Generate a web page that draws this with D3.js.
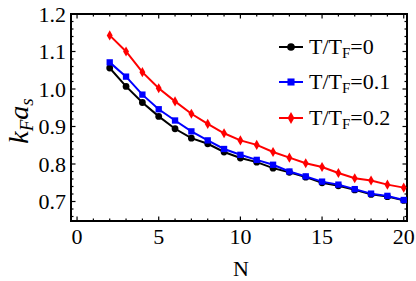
<!DOCTYPE html>
<html lang="en">
<head>
<meta charset="utf-8">
<title>kF as vs N</title>
<script src="https://cdn.jsdelivr.net/npm/d3@7"></script>
</head>
<body style="margin:0;background:white">
<svg width="416" height="281"></svg>
<script>
// data
var nValues = [2, 3, 4, 5, 6, 7, 8, 9, 10, 11, 12, 13, 14, 15, 16, 17, 18, 19, 20];
var t0 = [1.056, 1.007, 0.964, 0.927, 0.894, 0.869, 0.854, 0.832, 0.816, 0.805, 0.789, 0.778, 0.765, 0.750, 0.742, 0.731, 0.719, 0.713, 0.703];
var t01 = [1.071, 1.033, 0.985, 0.946, 0.916, 0.887, 0.863, 0.840, 0.8245, 0.811, 0.798, 0.780, 0.767, 0.753, 0.745, 0.733, 0.721, 0.715, 0.704];
var t02 = [1.143, 1.100, 1.045, 1.002, 0.967, 0.934, 0.907, 0.882, 0.863, 0.851, 0.832, 0.817, 0.802, 0.792, 0.776, 0.762, 0.756, 0.745, 0.737];
var seriesNames = ["0", "0.1", "0.2"];
var xTicks = [0, 5, 10, 15, 20];
var yTicks = [0.7, 0.8, 0.9, 1.0, 1.1, 1.2];

var serif = "Liberation Serif, Tinos, Times, DejaVu Serif, serif";
var svg = d3.select("svg");
var pLeft = 71, pRight = 407, pTop = 14, pBottom = 221;

var x = d3.scaleLinear().domain([-0.37, 20.2]).range([pLeft, pRight]);
var y = d3.scaleLinear().domain([0.648, 1.2]).range([pBottom, pTop]);

var series = [
  { name: seriesNames[0], values: t0, color: "#000000", symbol: d3.symbolCircle, size: 36 },
  { name: seriesNames[1], values: t01, color: "#0000ff", symbol: d3.symbolSquare, size: 40 },
  { name: seriesNames[2], values: t02, color: "#ff0000", symbol: d3.symbolDiamond, size: 30 }
];

// ticks (inside, mirrored on all four sides)
var ticks = svg.append("g").attr("stroke", "black").attr("stroke-width", 1.2);
d3.range(0, 21, 1).forEach(function(v) {
  var len = v % 5 === 0 ? 4.5 : 2.5;
  ticks.append("line").attr("x1", x(v)).attr("x2", x(v)).attr("y1", pBottom).attr("y2", pBottom - len);
  ticks.append("line").attr("x1", x(v)).attr("x2", x(v)).attr("y1", pTop).attr("y2", pTop + len);
});
d3.range(0.66, 1.2001, 0.02).forEach(function(v) {
  var major = Math.abs(Math.round(v * 10) - v * 10) < 1e-6;
  var len = major ? 4.5 : 2.5;
  ticks.append("line").attr("y1", y(v)).attr("y2", y(v)).attr("x1", pLeft).attr("x2", pLeft + len);
  ticks.append("line").attr("y1", y(v)).attr("y2", y(v)).attr("x1", pRight).attr("x2", pRight - len);
});

// frame
svg.append("rect")
  .attr("x", pLeft).attr("y", pTop)
  .attr("width", pRight - pLeft).attr("height", pBottom - pTop)
  .attr("fill", "none").attr("stroke", "black").attr("stroke-width", 2);

// tick labels
svg.selectAll(".xl").data(xTicks).enter().append("text")
  .style("font-family", serif).attr("font-size", 22)
  .attr("x", function(d) { return x(d); })
  .attr("y", 244)
  .attr("text-anchor", "middle")
  .text(function(d) { return d; });

svg.selectAll(".yl").data(yTicks).enter().append("text")
  .style("font-family", serif).attr("font-size", 22)
  .attr("x", 66)
  .attr("y", function(d) { return y(d) + 7.5; })
  .attr("text-anchor", "end")
  .text(function(d) { return d3.format(".1f")(d); });

// axis titles
svg.append("text")
  .style("font-family", serif).attr("font-size", 22)
  .attr("x", 241).attr("y", 276)
  .attr("text-anchor", "middle")
  .text("N");

var yt = svg.append("text")
  .attr("transform", "translate(28,121) rotate(-90)")
  .attr("text-anchor", "middle")
  .style("font-family", serif).attr("font-size", 28)
  .attr("font-style", "italic");
yt.append("tspan").text("k");
yt.append("tspan").attr("dy", 5).attr("font-size", 19).text("F");
yt.append("tspan").attr("dy", -5).text("a");
yt.append("tspan").attr("dy", 5).attr("font-size", 19).text("s");

// lines and markers
var line = d3.line()
  .x(function(d, i) { return x(nValues[i]); })
  .y(function(d) { return y(d); });

series.forEach(function(s) {
  svg.append("path")
    .attr("d", line(s.values))
    .attr("fill", "none")
    .attr("stroke", s.color)
    .attr("stroke-width", 2);
  svg.selectAll(null).data(s.values).enter().append("path")
    .attr("d", d3.symbol().type(s.symbol).size(s.size))
    .attr("transform", function(d, i) { return "translate(" + x(nValues[i]) + "," + y(d) + ")"; })
    .attr("fill", s.color);
});

// legend
var rowY = [47, 82, 118];
var legend = svg.append("g");
series.forEach(function(s, i) {
  var g = legend.append("g").attr("transform", "translate(0," + rowY[i] + ")");
  g.append("line").attr("x1", 279).attr("x2", 303).attr("y1", 0).attr("y2", 0)
    .attr("stroke", s.color).attr("stroke-width", 2);
  g.append("path").attr("d", d3.symbol().type(s.symbol).size(s.size + 10)())
    .attr("transform", "translate(291,0)").attr("fill", s.color);
  var t = g.append("text").attr("x", 309).attr("y", 7)
    .style("font-family", serif).attr("font-size", 22);
  t.append("tspan").text("T/T");
  t.append("tspan").attr("dy", 4).attr("font-size", 15).text("F");
  t.append("tspan").attr("dy", -4).text("=" + s.name);
});
</script>
</body>
</html>
